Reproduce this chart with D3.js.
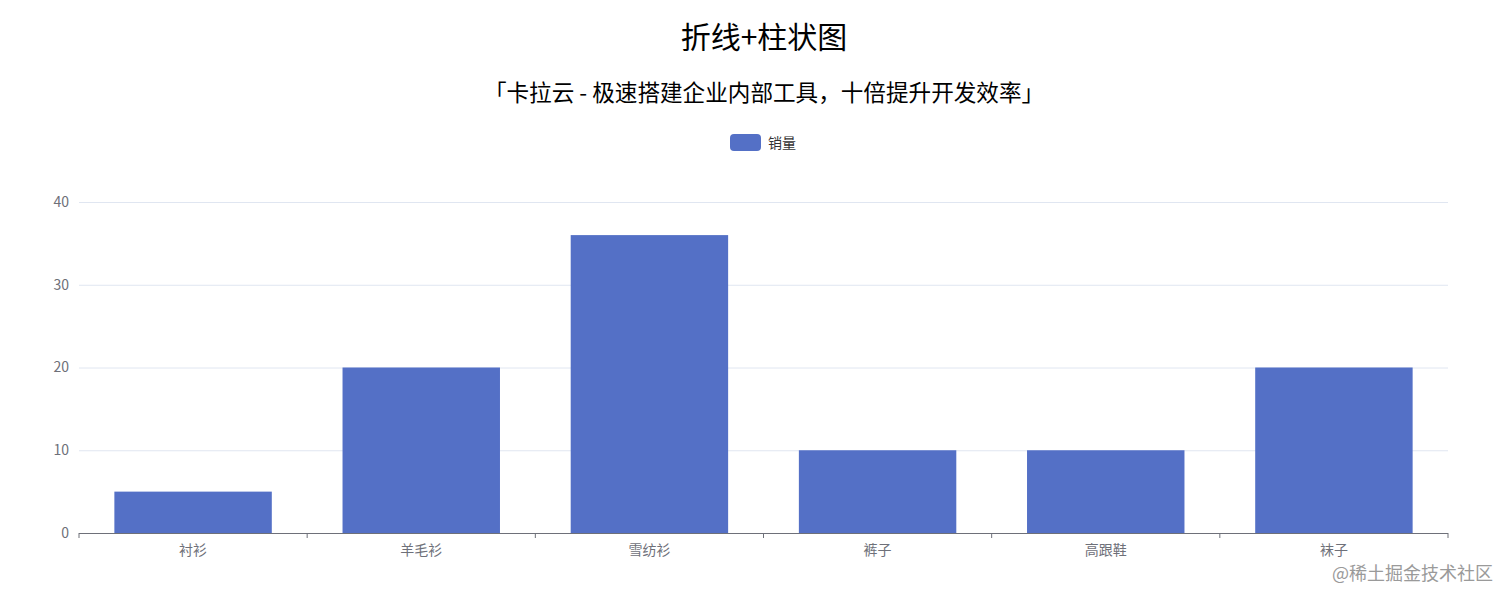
<!DOCTYPE html>
<html lang="zh">
<head>
  <meta charset="UTF-8"/>
  <title>折线+柱状图</title>
  <script src="https://d3js.org/d3.v7.min.js"></script>
  <style>
    body { margin: 0; background: #fff; font-family: 'Noto Sans CJK SC', 'Noto Sans', sans-serif; }
    svg { display: block; }
    .axis text { fill: #6e7079; font-size: 14px; font-family: 'Noto Sans CJK SC', sans-serif; }
    .grid line { stroke: #e0e6f1; }
    .grid path { stroke-width: 0; }
    .xaxis line { stroke: #6e7079; }
  </style>
</head>
<body>
<svg id="chart" width="1512" height="600"></svg>
<script>
  // data
  const categories = ['衬衫', '羊毛衫', '雪纺衫', '裤子', '高跟鞋', '袜子'];
  const sales = [5, 20, 36, 10, 10, 20];
  const yTicks = [0, 10, 20, 30, 40];

  const plotL = 79, plotR = 1448, plotT = 202, plotB = 533;
  const cx = 764;

  const svg = d3.select('#chart');

  const x = d3.scaleBand()
    .domain(categories)
    .range([plotL, plotR])
    .paddingInner(0.31)
    .paddingOuter(0.155);

  const y = d3.scaleLinear()
    .domain([0, 40])
    .range([plotB, plotT]);

  // grid + y labels
  const gy = svg.append('g')
    .attr('class', 'axis grid')
    .attr('transform', `translate(${plotL},0)`)
    .call(d3.axisLeft(y).tickValues(yTicks).tickSize(-(plotR - plotL)).tickPadding(10));
  gy.selectAll('.tick line').filter(d => d === 0).remove();
  gy.selectAll('.tick text').attr('fill', null);

  // bars
  svg.append('g').selectAll('rect')
    .data(sales)
    .join('rect')
    .attr('x', (d, i) => x(categories[i]))
    .attr('y', d => y(d))
    .attr('width', x.bandwidth())
    .attr('height', d => y(0) - y(d))
    .attr('fill', '#5470c6');

  // x axis, ticks on category boundaries
  const gx = svg.append('g')
    .attr('class', 'axis xaxis')
    .attr('transform', `translate(0,${plotB})`);
  gx.append('line')
    .attr('x1', plotL).attr('x2', plotR)
    .attr('y1', 0.5).attr('y2', 0.5);
  const bounds = d3.range(categories.length + 1).map(i => plotL + i * (plotR - plotL) / categories.length);
  gx.selectAll('line.tk')
    .data(bounds)
    .join('line')
    .attr('class', 'tk')
    .attr('x1', d => d).attr('x2', d => d)
    .attr('y1', 0).attr('y2', 5);
  gx.selectAll('text')
    .data(categories)
    .join('text')
    .attr('x', d => x(d) + x.bandwidth() / 2)
    .attr('y', 22)
    .attr('text-anchor', 'middle')
    .text(d => d);

  // title & subtitle
  svg.append('text')
    .attr('x', cx).attr('y', 48)
    .attr('text-anchor', 'middle')
    .attr('font-size', 30)
    .attr('fill', '#000')
    .text('折线+柱状图');

  svg.append('text')
    .attr('x', cx).attr('y', 101)
    .attr('text-anchor', 'middle')
    .attr('font-size', 22.6)
    .attr('fill', '#000')
    .text('「卡拉云 - 极速搭建企业内部工具，十倍提升开发效率」');

  // legend
  const lg = svg.append('g');
  lg.append('rect')
    .attr('x', 730).attr('y', 134)
    .attr('width', 31).attr('height', 17)
    .attr('rx', 4)
    .attr('fill', '#5470c6');
  lg.append('text')
    .attr('x', 768).attr('y', 148)
    .attr('font-size', 14)
    .attr('fill', '#333')
    .text('销量');

  // watermark
  svg.append('text')
    .attr('x', 1493).attr('y', 580)
    .attr('text-anchor', 'end')
    .attr('font-size', 18)
    .attr('fill', '#9a9a9a')
    .text('@稀土掘金技术社区');
</script>
</body>
</html>
